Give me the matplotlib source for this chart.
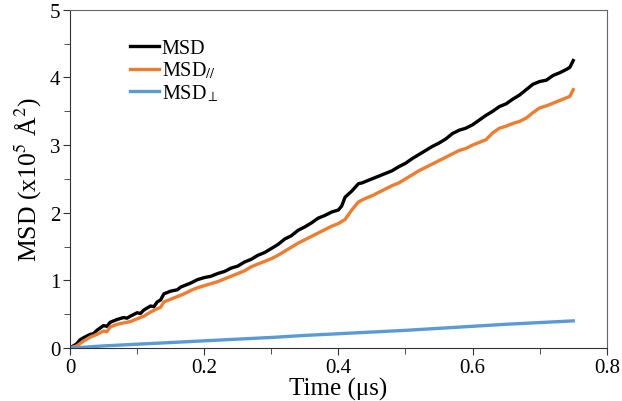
import matplotlib
matplotlib.use('Agg')
import matplotlib.pyplot as plt

plt.rcParams['font.family'] = ['Liberation Serif', 'DejaVu Serif']
plt.rcParams['mathtext.fontset'] = 'stix'

# time (us) and MSD values (x10^5 A^2)
t_msd = [0, 0.01, 0.015, 0.02, 0.03, 0.035, 0.04, 0.05, 0.055, 0.06, 0.07,
         0.08, 0.085, 0.09, 0.10, 0.105, 0.11, 0.12, 0.125, 0.13, 0.135, 0.14,
         0.15, 0.16, 0.165, 0.17, 0.18, 0.19, 0.20, 0.21, 0.22, 0.23, 0.24,
         0.25, 0.26, 0.27, 0.28, 0.29, 0.30, 0.31, 0.32, 0.33, 0.34, 0.35,
         0.36, 0.37, 0.38, 0.39, 0.40, 0.405, 0.41, 0.42, 0.43, 0.435, 0.44,
         0.45, 0.46, 0.47, 0.48, 0.49, 0.50, 0.51, 0.52, 0.53, 0.54, 0.55,
         0.56, 0.57, 0.58, 0.59, 0.60, 0.61, 0.62, 0.63, 0.64, 0.65, 0.66,
         0.67, 0.68, 0.69, 0.70, 0.71, 0.72, 0.73, 0.74, 0.745, 0.75]
msd = [0, 0.06, 0.12, 0.15, 0.20, 0.21, 0.26, 0.33, 0.32, 0.38, 0.42,
       0.45, 0.44, 0.47, 0.52, 0.51, 0.56, 0.62, 0.61, 0.68, 0.71, 0.80,
       0.84, 0.86, 0.90, 0.92, 0.96, 1.01, 1.04, 1.06, 1.10, 1.13, 1.18,
       1.21, 1.27, 1.31, 1.37, 1.41, 1.47, 1.53, 1.61, 1.66, 1.74, 1.79,
       1.85, 1.92, 1.96, 2.01, 2.04, 2.10, 2.23, 2.32, 2.43, 2.44, 2.46,
       2.50, 2.54, 2.58, 2.62, 2.68, 2.73, 2.80, 2.86, 2.92, 2.98, 3.03,
       3.09, 3.17, 3.22, 3.25, 3.30, 3.37, 3.44, 3.50, 3.57, 3.61, 3.68,
       3.74, 3.82, 3.90, 3.94, 3.96, 4.03, 4.07, 4.12, 4.15, 4.25]

t_par = [0, 0.01, 0.02, 0.03, 0.04, 0.05, 0.055, 0.06, 0.07, 0.08, 0.09,
         0.10, 0.11, 0.12, 0.13, 0.135, 0.14, 0.15, 0.16, 0.17, 0.18, 0.19,
         0.20, 0.21, 0.22, 0.23, 0.24, 0.25, 0.26, 0.27, 0.28, 0.29, 0.30,
         0.31, 0.32, 0.33, 0.34, 0.35, 0.36, 0.37, 0.38, 0.39, 0.40, 0.41,
         0.42, 0.43, 0.44, 0.45, 0.46, 0.47, 0.48, 0.49, 0.50, 0.51, 0.52,
         0.53, 0.54, 0.55, 0.56, 0.57, 0.58, 0.59, 0.60, 0.61, 0.62, 0.63,
         0.64, 0.65, 0.66, 0.67, 0.68, 0.69, 0.70, 0.71, 0.72, 0.73, 0.74,
         0.745, 0.75]
msd_par = [0, 0.03, 0.10, 0.16, 0.20, 0.25, 0.24, 0.31, 0.35, 0.37, 0.39,
           0.43, 0.47, 0.53, 0.58, 0.60, 0.68, 0.72, 0.76, 0.80, 0.85, 0.89,
           0.92, 0.95, 0.98, 1.02, 1.06, 1.10, 1.14, 1.20, 1.24, 1.28, 1.32,
           1.37, 1.43, 1.49, 1.55, 1.60, 1.65, 1.70, 1.75, 1.80, 1.84, 1.90,
           2.04, 2.16, 2.21, 2.25, 2.30, 2.35, 2.40, 2.44, 2.50, 2.56, 2.62,
           2.67, 2.72, 2.77, 2.82, 2.87, 2.92, 2.95, 3.00, 3.04, 3.08, 3.18,
           3.25, 3.28, 3.32, 3.35, 3.40, 3.48, 3.55, 3.58, 3.62, 3.66, 3.70,
           3.72, 3.82]

t_perp = [0, 0.02, 0.05, 0.10, 0.15, 0.20, 0.25, 0.30, 0.35, 0.40, 0.45,
          0.50, 0.55, 0.60, 0.65, 0.70, 0.75]
msd_perp = [0, 0.01, 0.03, 0.055, 0.08, 0.105, 0.13, 0.155, 0.185, 0.21,
            0.235, 0.26, 0.29, 0.32, 0.35, 0.375, 0.40]

fig = plt.figure(figsize=(6.22, 4.02), dpi=100)
ax = fig.add_axes([0.1125, 0.132, 0.863, 0.841])

ax.plot(t_msd, msd, color='black', lw=2.4, label='MSD')
ax.plot(t_par, msd_par, color='#ed7d31', lw=2.4, label='MSD$_{//}$')
ax.plot(t_perp, msd_perp, color='#5b9bd5', lw=2.4, label=r'MSD$_{\perp}$')

ax.set_xlim(0, 0.8)
ax.set_ylim(0, 5)
ax.set_xticks([0, 0.2, 0.4, 0.6, 0.8])
ax.set_xticklabels(['0', '0.2', '0.4', '0.6', '0.8'])
ax.set_xticks([0.1, 0.3, 0.5, 0.7], minor=True)
ax.set_yticks([0, 1, 2, 3, 4, 5])
ax.set_yticks([0.5, 1.5, 2.5, 3.5, 4.5], minor=True)
ax.tick_params(which='both', direction='out', labelsize=15, color='#333333')
ax.tick_params(which='major', length=5, pad=2)
ax.tick_params(which='minor', length=4)

for side in ['left', 'bottom']:
    ax.spines[side].set_color('#333333')
for side in ['top', 'right']:
    ax.spines[side].set_color('#666666')

ax.set_xlabel('Time (μs)', fontsize=18, labelpad=0)
ax.set_ylabel('MSD (x10$^5$ Å$^2$)', fontsize=18.5, labelpad=4)

ax.legend(loc='upper left', bbox_to_anchor=(0.097, 0.937), frameon=False,
          fontsize=14.5, handlelength=1.45, handletextpad=0.12, labelspacing=0.08,
          borderaxespad=0)

fig.savefig('out.png', dpi=100)
